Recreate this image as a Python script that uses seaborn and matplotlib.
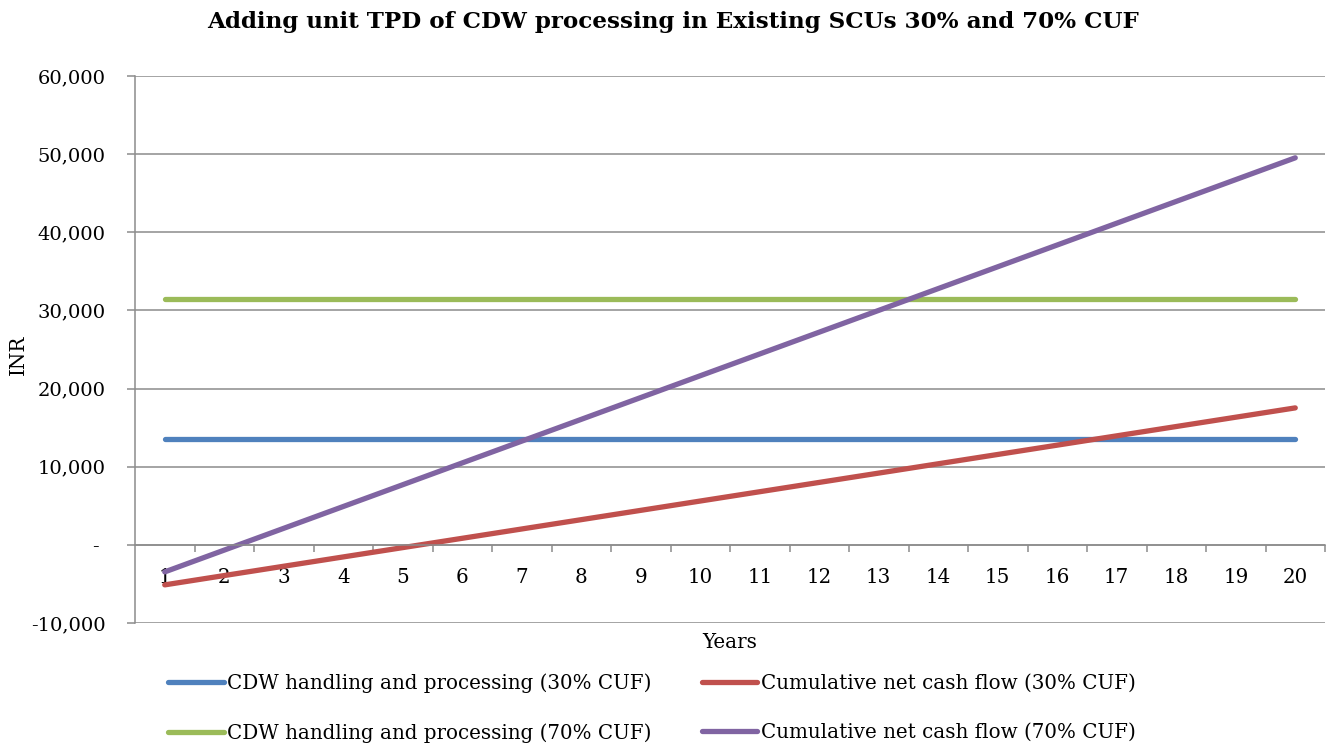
import numpy as np
import pandas as pd
import matplotlib
matplotlib.use("Agg")
import matplotlib.pyplot as plt
import seaborn as sns
from matplotlib.ticker import FuncFormatter, FixedLocator

### Data
years = list(range(1, 21))
handling_30 = [13560] * 20
handling_70 = [31480] * 20
cum_cash_30 = [-5120 + 1192 * i for i in range(20)]
cum_cash_70 = [-3460 + 2789 * i for i in range(20)]

series_names = ["CDW handling and processing (30% CUF)",
                "CDW handling and processing (70% CUF)",
                "Cumulative net cash flow (30% CUF)",
                "Cumulative net cash flow (70% CUF)"]
series_vals = [handling_30, handling_70, cum_cash_30, cum_cash_70]
colors = ["#4F81BD", "#9BBB59", "#C0504D", "#8064A2"]

sns.set_theme(style="white")
plt.rcParams['font.family'] = ['DejaVu Serif']
plt.rcParams['text.color'] = 'black'

fig = plt.figure(figsize=(13.38, 7.51), dpi=100)
ax = fig.add_axes([135/1338, 1-623/751, (1325-135)/1338, (623-76)/751])

grid_c = "#8C8C8C"
for name, vals, c in zip(series_names, series_vals, colors):
    sns.lineplot(x=years, y=vals, ax=ax, color=c, linewidth=3.8,
                 label=name, legend=False, solid_capstyle="round")

ax.set_xlim(0.5, 20.5)
ax.set_ylim(-10000, 60000)
ax.set_yticks(np.arange(-10000, 60001, 10000))

def fmt(v, pos):
    if abs(v) < 1:
        return "- "
    return "{:,.0f}".format(v)
ax.yaxis.set_major_formatter(FuncFormatter(fmt))
ax.yaxis.grid(True, color=grid_c, linewidth=1.1)
ax.set_axisbelow(True)

for s in ["top", "right"]:
    ax.spines[s].set_visible(False)
ax.spines["left"].set_color(grid_c)
ax.spines["left"].set_linewidth(1.1)
ax.spines["bottom"].set_position(("data", 0))
ax.spines["bottom"].set_color(grid_c)
ax.spines["bottom"].set_linewidth(1.1)

ax.set_xticks(years)
ax.set_xticklabels([str(y) for y in years])
ax.xaxis.set_minor_locator(FixedLocator(np.arange(1.5, 20.6, 1)))
ax.tick_params(axis="x", which="major", length=0, pad=17, labelsize=14.3, labelcolor="black")
ax.tick_params(axis="x", which="minor", length=5, width=1.1, color=grid_c, direction="out", bottom=True)
ax.tick_params(axis="y", which="major", length=6, width=1.1, color=grid_c, direction="out",
               left=True, pad=15, labelsize=14, labelcolor="black")

ax.set_xlabel("")
ax.set_ylabel("")
fig.text(730/1338, 1-642/751, "Years", ha="center", va="center", fontsize=14.3)
fig.text(18/1338, 1-355/751, "INR", ha="center", va="center", rotation=90, fontsize=14.3)
fig.text(673/1338, 1-22/751, "Adding unit TPD of CDW processing in Existing SCUs 30% and 70% CUF",
         ha="center", va="center", fontsize=16.6, fontweight="bold")

handles, labels = ax.get_legend_handles_labels()
fig.legend(handles, labels, ncol=2, loc="center", bbox_to_anchor=(652/1338, 1-708/751),
           frameon=False, fontsize=14.3, handlelength=2.8, handletextpad=0.2,
           columnspacing=2.5, labelspacing=1.5)

fig.savefig("out.png", dpi=100)
